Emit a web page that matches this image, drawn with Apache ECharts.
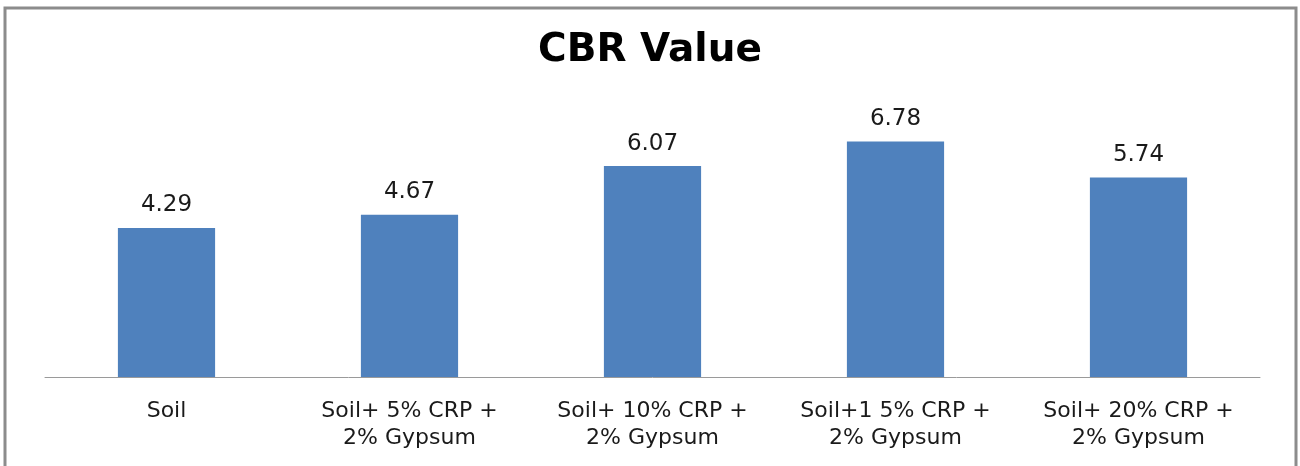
<!DOCTYPE html>
<html>
<head>
<meta charset="utf-8">
<script src="https://cdn.jsdelivr.net/npm/echarts@6/dist/echarts.min.js"></script>
<style>
  html, body { margin: 0; padding: 0; background: #fff; }
  #chart { width: 1300px; height: 466px; }
</style>
</head>
<body>
<div id="chart"></div>
<script>
// categories and CBR values
const categories = [
  'Soil',
  'Soil+ 5% CRP +\n2% Gypsum',
  'Soil+ 10% CRP +\n2% Gypsum',
  'Soil+1 5% CRP +\n2% Gypsum',
  'Soil+ 20% CRP +\n2% Gypsum',
];
const cbrValues = [4.29, 4.67, 6.07, 6.78, 5.74];

const myChart = echarts.init(document.getElementById('chart'));

const option = {
  backgroundColor: '#fff',
  animation: false,
  title: {
    text: 'CBR Value',
    left: 'center',
    top: 26,
    textStyle: {
      fontFamily: 'DejaVu Sans',
      fontWeight: 'bold',
      fontSize: 39,
      color: '#000',
    },
  },
  graphic: [
    {
      type: 'rect',
      shape: { x: 5, y: 8, width: 1291, height: 470 },
      style: { fill: 'none', stroke: '#8c8c8c', lineWidth: 3 },
      silent: true,
    },
  ],
  grid: {
    left: 45,
    right: 40,
    top: 99,
    bottom: 89,
    containLabel: false,
  },
  xAxis: {
    type: 'category',
    data: categories,
    axisLine: { lineStyle: { color: '#9a9a9a', width: 1 } },
    axisTick: { show: false },
    axisLabel: {
      interval: 0,
      margin: 21,
      fontFamily: 'DejaVu Sans',
      fontSize: 22,
      lineHeight: 27,
      color: '#1a1a1a',
    },
  },
  yAxis: {
    type: 'value',
    min: 0,
    max: 8,
    show: false,
    splitLine: { show: false },
  },
  series: [
    {
      type: 'bar',
      data: cbrValues,
      barWidth: '40%',
      itemStyle: { color: '#4F81BD' },
      label: {
        show: true,
        position: 'top',
        distance: 11,
        fontFamily: 'DejaVu Sans',
        fontSize: 23,
        color: '#1a1a1a',
        formatter(p) {
          return p.value.toFixed(2);
        },
      },
    },
  ],
};

myChart.setOption(option);
</script>
</body>
</html>
